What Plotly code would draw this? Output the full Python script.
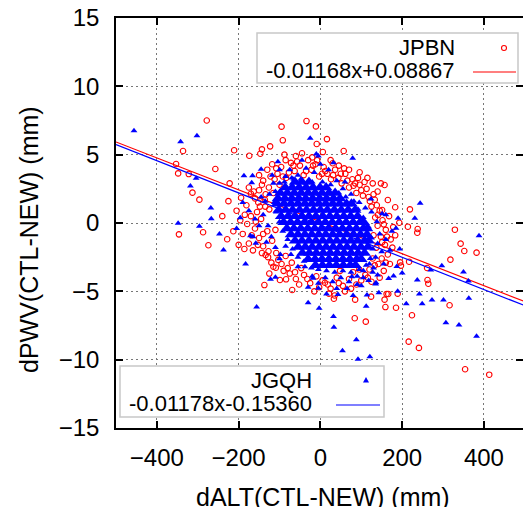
import plotly.graph_objects as go

# ---------------- data ----------------
# JPBN : red open circles
jpbn_pts = [
    (-278, 7.5), (-336, 5.27), (-353, 4.32), (-348, 3.63), (-322, 3.58), (-257, 3.95), (-313, 2.22),
    (-296, 1.71), (-346, -0.83), (-287, -0.68), (-274, -1.63),
    (219, 1.0), (214, -0.27), (238, -0.44), (237, -0.71), (329, -0.49), (343, -1.51), (352, -2.05),
    (382, -2.17), (318, -2.68), (261, -3.29), (262, -4.17), (264, -4.44), (316, -6.02), (224, -6.75),
    (216, -8.68), (241, -9.14), (354, -10.7), (413, -11.1), (84, -6.97), (111, -7.22), (185, -6.2),
    (159, -6.15), (157, -5.61), (162, -5.19), (85, -5.61), (33, -5.54), (21, -5.17), (11, -4.37),
    (189, -5.17), (124, -5.39), (217, -2.83), (193, 0.02), (195, -2.88),
    (-95, 7.05), (-34, 7.46), (-11, 7.07), (-92, 6.05), (16, 6.14), (-9, 5.78), (-123, 5.61),
    (-143, 5.39), (-147, 5.07), (-211, 5.32), (-174, 4.92), (-88, 5.0), (6, 5.19), (57, 5.27),
    (30, 4.37), (96, 3.71), (148, 2.9), (157, 2.78), (81, 2.73), (-194, 1.85), (-222, 2.9),
    (-228, -1.19), (-137, -4.54), (-99, -4.17), (-84, -4.12), (-109, -3.27), (-134, -2.34),
    (-127, -2.07), (-85, -2.41), (-69, -4.9), (166, -5.19), (197, -3.12), (151, 0.95), (183, 1.15),
    (165, 1.68), (-179, -0.07), (-170, 2.14),
    # ring round the dense core
    (-130, 3.9), (-118, 4.3), (-105, 3.6), (-96, 4.1), (-84, 3.3), (-72, 4.4), (-63, 3.8), (-50, 4.2),
    (-41, 3.5), (-30, 4.6), (-22, 3.9), (-12, 4.3), (-3, 3.4), (8, 4.1), (17, 3.6), (26, 3.2), (36, 3.9),
    (44, 3.3), (52, 2.9), (61, 3.6), (70, 2.6), (78, 3.2), (88, 2.2), (96, 2.8), (104, 2.0), (113, 2.5),
    (121, 1.6), (130, 2.1), (138, 1.3), (-140, 3.1), (-126, 2.6), (-112, 3.2), (-150, 2.4), (-60, 4.9),
    (-45, 5.1), (-20, 4.8), (25, 4.6), (45, 4.2), (70, 3.9), (-85, 4.6), (-100, 2.8), (-115, 2.2),
    (-136, 1.7), (-148, 1.2), (-125, 1.0), (115, 3.3), (128, 2.9), (140, 2.3),
    (145, 0.9), (152, 0.2), (160, -0.5), (140, -0.2), (148, -1.0), (158, -1.6), (137, -1.8), (165, -2.3),
    (150, -2.6), (172, -1.2), (178, -0.3), (168, 0.5), (134, 0.4), (130, -0.9), (142, -3.0), (128, -2.6),
    (120, -3.4), (155, -3.5), (170, -3.0), (110, -3.8), (100, -4.2), (125, -4.3), (88, -4.5), (145, -4.0),
    (70, -4.1), (55, -4.6), (40, -4.0), (25, -4.8), (5, -4.2), (-10, -3.9), (-25, -4.4), (-40, -3.8),
    (-52, -4.5), (-62, -3.6), (60, -5.0), (35, -5.3), (-15, -5.0), (80, -3.6), (48, -3.5),
    (-120, -2.9), (-140, -1.7), (-150, -1.1), (-160, -0.4), (-145, 0.3), (-130, -0.6), (-135, 1.2),
    (-155, 0.8), (-165, -2.0), (-118, -1.3), (-108, -2.2), (-95, -3.0), (-80, -3.3), (-70, -2.9),
    (-125, -3.7), (-110, -0.5), (-175, -1.5), (-190, -0.8), (-185, 0.6), (-200, -1.6), (-205, 0.9),
    (-160, 1.8), (-175, 2.6), (-150, 3.5),
    # second layer of the halo
    (-108, 4.0), (-77, 3.7), (-57, 4.5), (-35, 3.8), (-8, 4.6), (12, 3.8), (31, 3.5), (50, 3.6),
    (66, 3.1), (85, 2.9), (100, 2.4), (118, 1.9), (133, 1.7), (-122, 3.4), (-134, 2.1), (-143, 2.8),
    (-92, 3.4), (-66, 4.2), (-18, 4.2), (4, 3.6), (58, 4.0), (92, 3.3), (108, 3.0), (125, 1.2),
    (141, 0.6), (155, -0.1), (163, -1.0), (151, -1.4), (176, -1.8), (183, -0.9), (160, -2.9),
    (133, -3.1), (116, -4.0), (95, -3.4), (75, -4.8), (45, -4.4), (18, -4.5), (-3, -4.7), (-32, -4.1),
    (-47, -3.3), (-60, -4.1), (-75, -3.7), (-90, -3.5), (-103, -2.7), (-115, -3.2), (-128, -2.5),
    (-143, -2.2), (-153, -1.6), (-168, -0.9), (-158, 0.1), (-170, 0.5), (-140, -0.8), (-152, 1.5),
    (-163, 2.3), (-181, 1.3), (-196, 0.2), (-213, -0.6), (-186, -1.9), (-240, 0.5), (-225, 1.6),
]

# JGQH : blue filled triangles
jgqh_pts = [
    (-456, 6.75), (-342, 5.95), (-302, 6.39), (-304, 3.27), (-318, 2.71), (-268, 1.1), (-267, 0.31),
    (-348, -0.02), (-296, -0.24), (-247, -0.8),
    (244, 1.44), (231, 0.34), (388, -0.93), (297, -3.12), (270, -3.44), (350, -3.58), (362, -4.24),
    (363, -5.5), (301, -5.63), (273, -5.63), (249, -5.9), (210, -5.9), (242, -5.19), (237, -4.17),
    (307, -7.3), (339, -7.46), (382, -8.29),
    (-30, -5.83), (-3, -6.24), (32, -6.85), (33, -7.63), (88, -8.54), (54, -9.34), (121, -9.78),
    (92, -9.97), (101, -11.4), (-18, -4.05), (-5, -4.78), (167, -4.07), (135, -4.46), (114, -5.27),
    (200, -3.66), (187, -3.19),
    (-25, 6.2), (-10, 5.05), (79, 4.73), (-104, 4.48), (-145, 3.93), (-187, 3.46), (-166, 3.46),
    (-168, 2.95), (-196, 0.39), (-171, -0.93), (-237, -1.98), (-158, -1.49), (-100, -2.61),
    (-183, -3.0), (-110, -3.97), (-122, -4.12), (-156, -6.15), (112, -6.1), (143, -5.1), (43, -5.24),
    (77, -3.93), (124, 1.76), (151, 0.68), (190, 0.34), (185, -0.39), (194, -1.9), (189, -5.0),
    (179, -3.88), (136, -4.37),
    # fringe of the dense core
    (-75, 3.9), (-55, 3.5), (-35, 4.0), (-15, 3.7), (0, 4.3), (20, 3.9), (-88, 3.0), (-65, 3.2),
    (40, 3.1), (55, 2.5), (75, 2.1), (95, 1.5), (-45, 4.6), (-5, 4.9), (32, 4.4), (60, 3.0), (-100, 3.9),
    (-125, 2.1), (-135, 1.6), (-140, 0.6), (-128, -0.2), (-120, -1.0), (-132, -1.4), (-150, -0.2),
    (-145, 1.9), (-115, 2.9), (-110, -1.8), (-98, -2.3), (-160, 0.3), (-175, 0.9), (-190, 1.5),
    (-205, -0.4), (-165, -1.0), (-118, 3.5),
    (110, 1.1), (125, 0.8), (138, 0.1), (145, -0.8), (140, -1.5), (150, -2.1), (135, -2.5), (120, -3.0),
    (160, -1.2), (170, -2.0), (155, -3.0), (128, -3.6), (160, 0.6), (175, -0.6), (105, -3.5),
    (90, -3.9), (70, -4.3), (50, -4.0), (30, -4.3), (12, -4.0), (-5, -4.4), (-20, -3.9), (-38, -3.2),
    (-55, -3.2), (-72, -2.3), (-85, -1.7), (40, -4.8), (65, -4.8), (-30, -4.7), (15, -5.2), (100, -4.6),
    (80, -5.3),
    # irregular edge of the core
    (-70, 3.3), (-48, 3.2), (-20, 3.0), (5, 3.0), (25, 2.8), (45, 2.2), (62, 1.9), (82, 1.6), (92, 1.0),
    (105, 0.4), (118, -0.3), (125, -1.1), (128, -1.9), (122, -2.6), (112, -3.1), (95, -3.4), (75, -3.6),
    (55, -3.5), (35, -3.6), (15, -3.5), (-5, -3.4), (-22, -3.3), (-40, -2.8), (-55, -2.5), (-68, -1.9),
    (-80, -1.2), (-92, -0.6), (-100, 0.1), (-108, 0.8), (-113, 1.5), (-110, 2.3), (-100, 2.9),
    (-85, 3.4), (130, -3.3), (140, -3.8), (118, -4.2), (105, -4.0), (90, -4.5),
]

# JGQH : saturated core, one row (y) with its x values
jgqh_core_rows = [
    (3.0, [-62, -45, -28]),
    (2.6, [-86, -69, -52, -35, -18, -1, 14]),
    (2.2, [-98, -81, -64, -47, -30, -13, 4, 21, 36]),
    (1.8, [-104, -87, -70, -53, -36, -19, -2, 15, 32, 48]),
    (1.4, [-106, -89, -72, -55, -38, -21, -4, 13, 30, 47, 64, 76]),
    (0.95, [-102, -85, -68, -51, -34, -17, 0, 17, 34, 51, 68, 85]),
    (0.5, [-96, -79, -62, -45, -28, -11, 6, 23, 40, 57, 74, 91]),
    (0.05, [-90, -73, -56, -39, -22, -5, 12, 29, 46, 63, 80, 97, 106]),
    (-0.4, [-82, -65, -48, -31, -14, 3, 20, 37, 54, 71, 88, 105, 114]),
    (-0.85, [-72, -55, -38, -21, -4, 13, 30, 47, 64, 81, 98, 114]),
    (-1.3, [-62, -45, -28, -11, 6, 23, 40, 57, 74, 91, 108, 118]),
    (-1.75, [-54, -37, -20, -3, 14, 31, 48, 65, 82, 99, 116]),
    (-2.2, [-44, -27, -10, 7, 24, 41, 58, 75, 92, 108]),
    (-2.65, [-30, -13, 4, 21, 38, 55, 72, 89, 100]),
    (-3.1, [-12, 5, 22, 39, 56, 73, 86]),
]

series_names = ["JPBN", "JGQH"]
fit_slope = [-0.01168, -0.01178]
fit_icpt = [0.08867, -0.15360]
fit_labels = ["-0.01168x+0.08867", "-0.01178x-0.15360"]
fit_x = [-500, 500]
x_ticks = [-400, -200, 0, 200, 400]
y_ticks = [-15, -10, -5, 0, 5, 10, 15]

# ---------------- figure ----------------
W, H = 523, 507
L, R, T, B = 116, 0, 18, 79
PW, PH = W - L - R, H - T - B
FONT = "Liberation Sans, Arial, Helvetica, sans-serif"
RED, BLUE = "#ff0000", "#0000ff"


def px(xp):
    return (xp - L) / PW


def py(yp):
    return (H - B - yp) / PH


jpbn_x = [p[0] for p in jpbn_pts]
jpbn_y = [p[1] for p in jpbn_pts]
jgqh_x = [p[0] for p in jgqh_pts]
jgqh_y = [p[1] for p in jgqh_pts]
core_x = [x for y, xs in jgqh_core_rows for x in xs]
core_y = [y for y, xs in jgqh_core_rows for x in xs]

fig = go.Figure()
fig.add_trace(go.Scatter(x=jpbn_x, y=jpbn_y, mode="markers", name=series_names[0],
                         marker=dict(symbol="circle-open", size=5.5, color=RED, line=dict(width=1.1, color=RED))))
fig.add_trace(go.Scatter(x=fit_x, y=[fit_slope[0] * v + fit_icpt[0] for v in fit_x], mode="lines",
                         name=fit_labels[0], line=dict(color=RED, width=1.2)))
fig.add_trace(go.Scatter(x=core_x, y=core_y, mode="markers", name=series_names[1] + " core",
                         marker=dict(symbol="triangle-up", size=11, color=BLUE, line=dict(width=0))))
fig.add_trace(go.Scatter(x=jgqh_x, y=jgqh_y, mode="markers", name=series_names[1],
                         marker=dict(symbol="triangle-up", size=6, color=BLUE, line=dict(width=0))))
fig.add_trace(go.Scatter(x=fit_x, y=[fit_slope[1] * v + fit_icpt[1] for v in fit_x], mode="lines",
                         name=fit_labels[1], line=dict(color=BLUE, width=1.2)))

axis_common = dict(
    showline=True, linecolor="black", linewidth=1.5, mirror="allticks",
    ticks="inside", ticklen=7, tickwidth=1.5, tickcolor="black", automargin=False,
    showgrid=True, gridcolor="#777777", gridwidth=1, griddash="2px,3px",
    zeroline=False, tickfont=dict(family=FONT, size=24, color="black"),
)

fig.update_layout(
    template="none",
    width=W, height=H, margin=dict(l=L, r=R, t=T, b=B, pad=0, autoexpand=False),
    paper_bgcolor="white", plot_bgcolor="white", showlegend=False,
    xaxis=dict(range=[-500, 495.6], tickvals=x_ticks, ticklabelstandoff=7, **axis_common),
    yaxis=dict(range=[-15, 15], tickvals=y_ticks, ticklabelstandoff=10, **axis_common),
)

# axis titles
fig.add_annotation(text="dALT(CTL-NEW) (mm)", xref="paper", yref="paper", x=px(323), y=py(497),
                   xanchor="center", yanchor="middle", showarrow=False,
                   font=dict(family=FONT, size=25, color="black"))
fig.add_annotation(text="dPWV(CTL-NEW) (mm)", xref="paper", yref="paper", x=px(29), y=py(240),
                   xanchor="center", yanchor="middle", showarrow=False, textangle=-90,
                   font=dict(family=FONT, size=25, color="black"))

# key boxes (gnuplot style: text right-justified, sample on the right)
keys = [
    dict(box=(257, 33, 518, 83), tx=457, rows=(48, 70), mx=504, line=(473, 516, 72), color=RED, kind="circle"),
    dict(box=(120, 366, 384, 417), tx=314, rows=(380, 403), mx=366, line=(336, 380, 405), color=BLUE, kind="tri"),
]
for i, k in enumerate(keys):
    x0, y0, x1, y1 = k["box"]
    fig.add_shape(type="rect", xref="paper", yref="paper", x0=px(x0), x1=px(x1), y0=py(y1), y1=py(y0),
                  fillcolor="white", line=dict(color="#c8c8c8", width=1.5), layer="above")
    fig.add_annotation(text=series_names[i], xref="paper", yref="paper", x=px(k["tx"]), y=py(k["rows"][0]),
                       xanchor="right", yanchor="middle", showarrow=False,
                       font=dict(family=FONT, size=22, color="black"))
    fig.add_annotation(text=fit_labels[i], xref="paper", yref="paper", x=px(k["tx"]), y=py(k["rows"][1]),
                       xanchor="right", yanchor="middle", showarrow=False,
                       font=dict(family=FONT, size=22, color="black"))
    lx0, lx1, ly = k["line"]
    fig.add_shape(type="line", xref="paper", yref="paper", x0=px(lx0), x1=px(lx1), y0=py(ly), y1=py(ly),
                  line=dict(color=k["color"], width=1.2), layer="above")
    cy = k["rows"][0]
    if k["kind"] == "circle":
        fig.add_shape(type="circle", xref="paper", yref="paper", x0=px(k["mx"] - 2.5), x1=px(k["mx"] + 2.5),
                      y0=py(cy + 2.5), y1=py(cy - 2.5), line=dict(color=RED, width=1.1), layer="above")
    else:
        m = k["mx"]
        path = f"M {px(m - 3)} {py(cy + 2.5)} L {px(m + 3)} {py(cy + 2.5)} L {px(m)} {py(cy - 3)} Z"
        fig.add_shape(type="path", xref="paper", yref="paper", path=path, fillcolor=BLUE,
                      line=dict(color=BLUE, width=0), layer="above")

fig.write_html("out.html", config=dict(displayModeBar=False),
               post_script="document.body.style.margin='0';document.body.style.overflow='hidden';")
